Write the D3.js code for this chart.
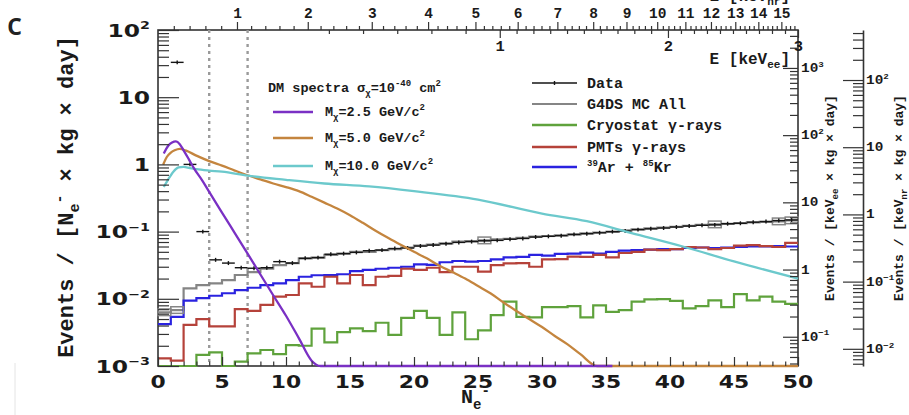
<!DOCTYPE html>
<html>
<head>
<meta charset="utf-8">
<script src="https://cdn.jsdelivr.net/npm/d3@7/dist/d3.min.js"></script>
<style>
  body { margin: 0; background: #fff; }
  .mono { font-family: "Liberation Mono", "DejaVu Sans Mono", monospace; font-weight: bold; fill: #1a1a1a; }
  .num { font-family: "DejaVu Sans", sans-serif; font-weight: bold; fill: #1a1a1a; }
</style>
</head>
<body>
<div id="chart"></div>
<script>
// bin contents, one value per N_e- bin (0..49), events / [Ne- x kg x day]
const g4dsAll = [0.0063, 0.0068, 0.0143, 0.016, 0.017, 0.019, 0.0226, 0.025, 0.028, 0.0318,
  0.034, 0.040, 0.041, 0.045, 0.047, 0.050, 0.050, 0.053, 0.055, 0.058,
  0.062, 0.064, 0.067, 0.071, 0.072, 0.074, 0.077, 0.078, 0.081, 0.084,
  0.086, 0.088, 0.090, 0.094, 0.097, 0.099, 0.104, 0.108, 0.112, 0.115,
  0.118, 0.122, 0.126, 0.128, 0.130, 0.134, 0.137, 0.140, 0.142, 0.147];
const dataCounts = [null, 33, 1.0, 0.1, 0.038, 0.034, 0.029, 0.0285, 0.029, 0.0357,
  0.034, 0.040, 0.041, 0.046, 0.047, 0.049, 0.052, 0.053, 0.056, 0.057,
  0.061, 0.063, 0.066, 0.069, 0.071, 0.073, 0.074, 0.077, 0.079, 0.083,
  0.085, 0.087, 0.091, 0.093, 0.096, 0.100, 0.102, 0.107, 0.110, 0.113,
  0.117, 0.121, 0.124, 0.126, 0.131, 0.133, 0.138, 0.141, 0.146, 0.149];
const arKr = [0.0042, 0.0054, 0.0094, 0.0102, 0.0111, 0.0121, 0.0135, 0.0146, 0.016, 0.017,
  0.019, 0.0213, 0.0224, 0.0226, 0.0232, 0.0258, 0.027, 0.028, 0.029, 0.030,
  0.0325, 0.032, 0.035, 0.0365, 0.0357, 0.0365, 0.0387, 0.0414, 0.042, 0.045,
  0.044, 0.0465, 0.047, 0.0487, 0.047, 0.050, 0.052, 0.053, 0.054, 0.055,
  0.055, 0.057, 0.058, 0.057, 0.058, 0.059, 0.060, 0.060, 0.061, 0.060];
const pmts = [0.0013, 0.0012, 0.0041, 0.0050, 0.0039, 0.0039, 0.0070, 0.0066, 0.0081, 0.0108,
  0.0114, 0.017, 0.0151, 0.0213, 0.017, 0.0226, 0.016, 0.0213, 0.022, 0.028,
  0.027, 0.029, 0.025, 0.030, 0.030, 0.0253, 0.0318, 0.0337, 0.034, 0.030,
  0.0387, 0.039, 0.0424, 0.042, 0.045, 0.0414, 0.048, 0.050, 0.054, 0.053,
  0.055, 0.059, 0.058, 0.055, 0.057, 0.062, 0.063, 0.061, 0.059, 0.068];
const cryostat = [0.0008, 0.0008, 0.0008, 0.00146, 0.0016, 0.0009, 0.00116, 0.00154, 0.00173, 0.0015,
  0.00205, 0.0020, 0.0036, 0.00225, 0.0032, 0.00364, 0.0033, 0.0044, 0.0029, 0.0052,
  0.0066, 0.0052, 0.0029, 0.0063, 0.0025, 0.0034, 0.0057, 0.0091, 0.0054, 0.0053,
  0.0075, 0.0075, 0.0078, 0.0053, 0.0080, 0.0064, 0.0068, 0.0091, 0.0098, 0.0099,
  0.0093, 0.0072, 0.0078, 0.0095, 0.0075, 0.0117, 0.0095, 0.0108, 0.0091, 0.0084];
// bins where the MC error box is visible
const mcBoxBins = [0, 1, 25, 43, 48, 49];

// DM spectra, sigma = 1e-40 cm2
const dm25N = [0.45, 0.8, 1.1, 1.4, 1.7, 2.0, 2.4, 2.8, 3.5, 4, 5, 6, 7, 8, 9, 10, 11, 12, 12.7, 35.5];
const dm25V = [1.45, 1.9, 2.12, 2.2, 2.0, 1.62, 1.2, 0.88, 0.56, 0.39, 0.192, 0.095, 0.047, 0.023, 0.0113, 0.0056, 0.0026, 0.0012, 0.001, 0.001];
const dm50N = [0.4, 0.7, 1.0, 1.3, 1.7, 2.2, 3, 4, 5, 6, 7, 8, 9, 10, 11, 12, 13, 14, 15, 16, 17, 18, 19,
  20, 21, 22, 23, 24, 25, 26, 27, 28, 29, 30, 31, 32, 33, 34.3, 50];
const dm50V = [0.99, 1.3, 1.5, 1.62, 1.7, 1.6, 1.35, 1.12, 0.96, 0.81, 0.69, 0.6, 0.52, 0.46, 0.4, 0.33, 0.27, 0.22, 0.175, 0.135, 0.103, 0.08, 0.063,
  0.05, 0.04, 0.031, 0.025, 0.02, 0.0155, 0.012, 0.0088, 0.0066, 0.005, 0.0038, 0.0028, 0.0021, 0.0015, 0.001, 0.001];
const dm100N = [0.45, 0.8, 1.2, 1.6, 2.0, 2.5, 3, 4, 5, 7, 10, 13, 16.5, 20, 25, 30, 33.5, 37, 41, 45, 50];
const dm100V = [0.46, 0.6, 0.78, 0.9, 0.92, 0.88, 0.85, 0.81, 0.78, 0.68, 0.59, 0.52, 0.47, 0.4, 0.3, 0.185, 0.143, 0.095, 0.06, 0.036, 0.02];

// energy scales on the top axes
const keVnrE = [0, 1, 2, 3, 4, 5, 6, 7, 8, 9, 10, 11, 12, 13, 14, 15, 16];
const keVnrNe = [0, 6.17, 11.7, 16.7, 21.1, 24.8, 28.1, 31.2, 34.0, 36.6, 39.0, 41.2, 43.2, 45.1, 46.9, 48.7, 50.4];
const keVeeE = [0, 1, 2, 3];
const keVeeNe = [0, 26.7, 39.84, 50];
// conversion of the side axes, per-keV rate over per-Ne- rate
const keVeePerNe = 36.7;
const keVnrPerNe = 5.55;

const yExp = [-3, -2, -1, 0, 1, 2];
const cutLines = [4, 7];

const colors = { mc: "#858585", cryo: "#5fa23c", pmt: "#b5423a", ar: "#2a22e0", data: "#151515",
  dm25: "#7a30c4", dm50: "#c4853e", dm100: "#6cc9cc" };

const svg = d3.select("#chart").append("svg").attr("width", 909).attr("height", 415);

const x = d3.scaleLinear().domain([0, 50]).range([158, 798]);
const y = d3.scaleLog().domain([1e-3, 1e2]).range([366, 30]).clamp(true);
const yA = d3.scaleLog().domain([1e-3 * keVeePerNe, 1e2 * keVeePerNe]).range([366, 30]);
const yB = d3.scaleLog().domain([1e-3 * keVnrPerNe, 1e2 * keVnrPerNe]).range([366, 30]);
const nrToX = d3.scaleLinear().domain(keVnrE).range(keVnrNe.map(x));
const eeToX = d3.scaleLinear().domain(keVeeE).range(keVeeNe.map(x));

const isDecade = d => Math.abs(Math.log10(d) - Math.round(Math.log10(d))) < 1e-6;

// text with sub/superscripts; parts are strings or [str, "sub"|"sup"]
function rich(sel, parts, size, small) {
  let off = 0;
  parts.forEach(p => {
    const [s, k] = typeof p === "string" ? [p, "n"] : p;
    const target = k === "sup" ? -0.42 * size : k === "sub" ? 0.28 * size : 0;
    const t = sel.append("tspan").text(s).attr("dy", target - off);
    if (k !== "n") t.attr("font-size", small);
    off = target;
  });
  return sel;
}
function expParts(e) {
  if (e === 0) return ["1"];
  if (e === 1) return ["10"];
  return ["10", [String(e).replace("-", "\u2212"), "sup"]];
}

// panel letter and stray edge
svg.append("text").attr("x", 7).attr("y", 35).attr("font-family", "Open Sans, sans-serif")
  .attr("font-size", 30).attr("font-weight", 600).attr("fill", "#222").text("c");
svg.append("line").attr("x1", 15).attr("x2", 15).attr("y1", 363).attr("y2", 415)
  .attr("stroke", "#e4e4e4").attr("stroke-width", 1);

// frame
svg.append("rect").attr("x", x(0)).attr("y", y(1e2)).attr("width", x(50) - x(0)).attr("height", y(1e-3) - y(1e2))
  .attr("fill", "none").attr("stroke", "#333").attr("stroke-width", 1.6);

// threshold lines
svg.append("g").selectAll("line").data(cutLines).join("line")
  .attr("x1", d => x(d)).attr("x2", d => x(d)).attr("y1", y(1e2)).attr("y2", y(1e-3))
  .attr("stroke", "#9a9a9a").attr("stroke-width", 2.4).attr("stroke-dasharray", "3,4");

// histograms
const step = d3.line().x(d => x(d[0])).y(d => y(d[1])).curve(d3.curveStepAfter);
const histPts = vals => vals.map((v, i) => [i, v]).concat([[vals.length, vals[vals.length - 1]]]);
[[g4dsAll, colors.mc], [cryostat, colors.cryo], [arKr, colors.ar], [pmts, colors.pmt]].forEach(([vals, c]) => {
  svg.append("path").attr("d", step(histPts(vals))).attr("fill", "none")
    .attr("stroke", c).attr("stroke-width", 2.2);
});
svg.append("g").selectAll("rect").data(mcBoxBins).join("rect")
  .attr("x", d => x(d)).attr("width", x(1) - x(0))
  .attr("y", d => y(g4dsAll[d] * 1.12)).attr("height", d => y(g4dsAll[d] / 1.12) - y(g4dsAll[d] * 1.12))
  .attr("fill", "none").attr("stroke", colors.mc).attr("stroke-width", 1.5);

// data points
const dataPts = dataCounts.map((v, i) => ({ i, v })).filter(d => d.v !== null);
const dg = svg.append("g").attr("stroke", colors.data).attr("stroke-width", 1.4);
dg.selectAll("line.h").data(dataPts).join("line").attr("class", "h")
  .attr("x1", d => x(d.i)).attr("x2", d => x(d.i + 1)).attr("y1", d => y(d.v)).attr("y2", d => y(d.v));
dg.selectAll("line.v").data(dataPts).join("line").attr("class", "v")
  .attr("x1", d => x(d.i + 0.5)).attr("x2", d => x(d.i + 0.5))
  .attr("y1", d => y(d.v * 1.07)).attr("y2", d => y(d.v / 1.07));

// DM spectra
const curve = d3.line().x(d => x(d[0])).y(d => y(d[1])).curve(d3.curveMonotoneX);
[[dm50N, dm50V, colors.dm50], [dm100N, dm100V, colors.dm100], [dm25N, dm25V, colors.dm25]].forEach(([ns, vs, c]) => {
  svg.append("path").attr("d", curve(ns.map((n, i) => [n, vs[i]]))).attr("fill", "none")
    .attr("stroke", c).attr("stroke-width", 2.3);
});

// axes
const tickStyle = g => g.call(s => s.select(".domain").remove())
  .call(s => s.selectAll("line").attr("stroke", "#333").attr("stroke-width", 1.2));
const majorY = yExp.map(e => Math.pow(10, e));
svg.append("g").attr("transform", `translate(${x(0)},0)`)
  .call(d3.axisRight(y).tickValues(majorY).tickSize(21).tickFormat("")).call(tickStyle);
svg.append("g").attr("transform", `translate(${x(0)},0)`)
  .call(d3.axisRight(y).tickValues(y.ticks().filter(d => !isDecade(d))).tickSize(11).tickFormat("")).call(tickStyle);
svg.append("g").attr("transform", `translate(0,${y(1e-3)})`)
  .call(d3.axisTop(x).tickValues(d3.range(0, 51, 5)).tickSize(9).tickFormat("")).call(tickStyle);
svg.append("g").attr("transform", `translate(0,${y(1e-3)})`)
  .call(d3.axisTop(x).tickValues(d3.range(0, 51).filter(d => d % 5)).tickSize(4.5).tickFormat("")).call(tickStyle);

// left tick labels
yExp.forEach(e => {
  const t = svg.append("text").attr("class", "num").attr("font-size", 18).attr("text-anchor", "end")
    .attr("transform", `translate(150,${y(Math.pow(10, e)) + 6.5}) scale(1.3,1)`);
  rich(t, expParts(e), 18, 11);
});
// bottom tick labels
x.ticks(10).forEach(v => {
  svg.append("text").attr("class", "num").attr("font-size", 18.5).attr("text-anchor", "middle")
    .attr("transform", `translate(${x(v)},388) scale(1.18,1)`).text(v);
});

// top axes: E [keVnr] (ticks up) and E [keVee] (ticks down)
const topY = y(1e2);
svg.append("g").attr("transform", `translate(0,${topY})`)
  .call(d3.axisTop(nrToX).tickValues(d3.range(1, 16)).tickSize(8).tickPadding(4).tickFormat(d3.format("d")))
  .call(g => g.select(".domain").remove())
  .call(g => g.selectAll("line").attr("stroke", "#333").attr("stroke-width", 1.2))
  .call(g => g.selectAll("text").attr("class", "mono").attr("font-size", 14.5));
svg.append("g").attr("transform", `translate(0,${topY})`)
  .call(d3.axisTop(nrToX).tickValues(d3.range(0.2, 15.7, 0.2).filter(d => Math.abs(d - Math.round(d)) > 0.05)).tickSize(4).tickFormat(""))
  .call(tickStyle);
svg.append("g").attr("transform", `translate(0,${topY})`)
  .call(d3.axisBottom(eeToX).tickValues([1, 2, 3]).tickSize(8).tickPadding(2).tickFormat(d3.format("d")))
  .call(g => g.select(".domain").remove())
  .call(g => g.selectAll("line").attr("stroke", "#333").attr("stroke-width", 1.2))
  .call(g => g.selectAll("text").attr("class", "mono").attr("font-size", 15.5));
svg.append("g").attr("transform", `translate(0,${topY})`)
  .call(d3.axisBottom(eeToX).tickValues(d3.range(0.5, 3, 0.1).filter(d => Math.abs(d - Math.round(d)) > 0.05)).tickSize(4).tickFormat(""))
  .call(tickStyle);
rich(svg.append("text").attr("class", "mono").attr("font-size", 16).attr("text-anchor", "end")
  .attr("x", 790).attr("y", 64), ["E [keV", ["ee", "sub"], "]"], 16, 11);
// this title sits above the page edge and is mostly cut off, as in the source
rich(svg.append("text").attr("class", "mono").attr("font-size", 16).attr("text-anchor", "end")
  .attr("x", 790).attr("y", 1), ["E [keV", ["nr", "sub"], "]"], 16, 11);

// side axes
function sideAxis(scale, xPos, major, minor, keepDomain) {
  const g1 = svg.append("g").attr("transform", `translate(${xPos},0)`)
    .call(d3.axisLeft(scale).tickValues(scale.ticks().filter(isDecade)).tickSize(major).tickSizeOuter(0).tickFormat(""));
  const g2 = svg.append("g").attr("transform", `translate(${xPos},0)`)
    .call(d3.axisLeft(scale).tickValues(scale.ticks().filter(d => !isDecade(d))).tickSize(minor).tickFormat(""));
  [g1, g2].forEach(g => g.selectAll("line").attr("stroke", "#333").attr("stroke-width", 1.2));
  g2.select(".domain").remove();
  if (keepDomain) g1.select(".domain").attr("stroke", "#333").attr("stroke-width", 1.6);
  else g1.select(".domain").remove();
  scale.ticks().filter(isDecade).forEach(v => {
    const t = svg.append("text").attr("class", "mono").attr("font-size", 12.5)
      .attr("transform", `translate(${xPos + 3},${scale(v) + 4}) scale(1.15,1)`);
    rich(t, expParts(Math.round(Math.log10(v))), 12.5, 8);
  });
}
sideAxis(yA, x(50), 15, 8, false);
sideAxis(yB, 863, 20, 10, true);

// axis titles
rich(svg.append("text").attr("class", "mono").attr("font-size", 22).attr("text-anchor", "middle")
  .attr("transform", "translate(73,197) rotate(-90)"),
  ["Events / [N", ["e", "sub"], ["-", "sup"], " \u00d7 kg \u00d7 day]"], 22, 15);
rich(svg.append("text").attr("class", "mono").attr("font-size", 13).attr("text-anchor", "middle")
  .attr("transform", "translate(834,198) rotate(-90)"),
  ["Events / [keV", ["ee", "sub"], " \u00d7 kg \u00d7 day]"], 13, 9);
rich(svg.append("text").attr("class", "mono").attr("font-size", 13).attr("text-anchor", "middle")
  .attr("transform", "translate(903,198) rotate(-90)"),
  ["Events / [keV", ["nr", "sub"], " \u00d7 kg \u00d7 day]"], 13, 9);
rich(svg.append("text").attr("class", "mono").attr("font-size", 20).attr("x", 461).attr("y", 403),
  ["N", ["e", "sub"], ["-", "sup"]], 20, 14);

// DM legend
rich(svg.append("text").attr("class", "mono").attr("font-size", 13.5).attr("x", 268).attr("y", 92),
  ["DM spectra \u03c3", ["\u03c7", "sub"], "=10", ["-40", "sup"], " cm", ["2", "sup"]], 13.5, 9);
const dmLegend = [
  { mass: "2.5", color: colors.dm25, ly: 112 },
  { mass: "5.0", color: colors.dm50, ly: 138 },
  { mass: "10.0", color: colors.dm100, ly: 166 }
];
dmLegend.forEach(d => {
  svg.append("line").attr("x1", 273).attr("x2", 313).attr("y1", d.ly).attr("y2", d.ly)
    .attr("stroke", d.color).attr("stroke-width", 2.3);
  rich(svg.append("text").attr("class", "mono").attr("font-size", 13.5).attr("x", 325).attr("y", d.ly + 4),
    ["M", ["\u03c7", "sub"], "=" + d.mass + " GeV/c", ["2", "sup"]], 13.5, 9);
});

// background legend
const bgLegend = [
  { parts: ["Data"], color: colors.data, ly: 83, w: 1.4 },
  { parts: ["G4DS MC All"], color: colors.mc, ly: 104, w: 2 },
  { parts: ["Cryostat \u03b3-rays"], color: colors.cryo, ly: 125, w: 2.4 },
  { parts: ["PMTs \u03b3-rays"], color: colors.pmt, ly: 147, w: 2.4 },
  { parts: [["39", "sup"], "Ar + ", ["85", "sup"], "Kr"], color: colors.ar, ly: 167, w: 2.4 }
];
bgLegend.forEach((d, i) => {
  svg.append("line").attr("x1", 532).attr("x2", 577).attr("y1", d.ly).attr("y2", d.ly)
    .attr("stroke", d.color).attr("stroke-width", d.w);
  if (i === 0) svg.append("line").attr("x1", 554.5).attr("x2", 554.5).attr("y1", d.ly - 2).attr("y2", d.ly + 2)
    .attr("stroke", d.color).attr("stroke-width", 1.4);
  rich(svg.append("text").attr("class", "mono").attr("font-size", 15).attr("x", 587).attr("y", d.ly + 5),
    d.parts, 15, 9);
});
</script>
</body>
</html>
